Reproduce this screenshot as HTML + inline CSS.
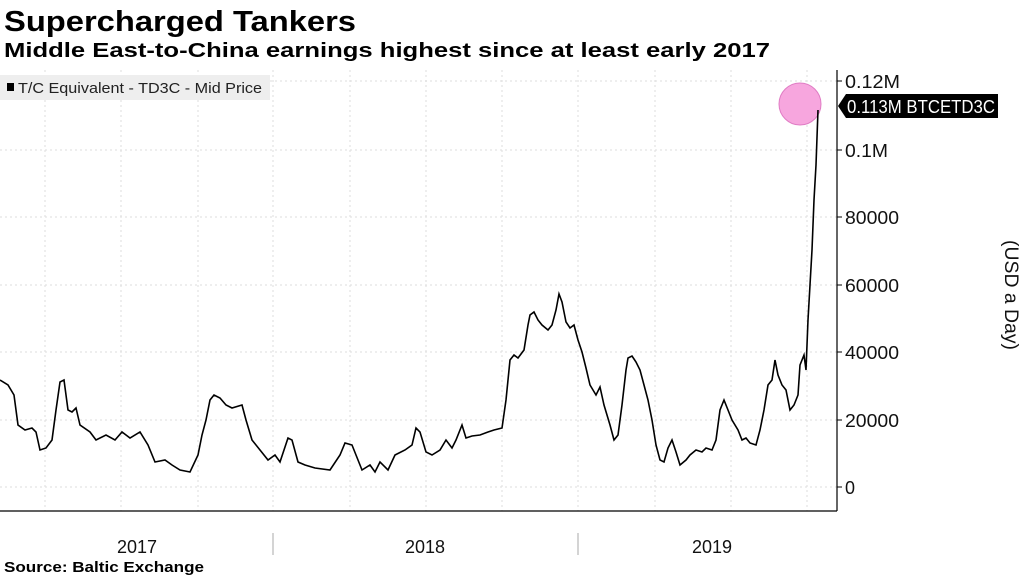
<!DOCTYPE html><html><head><style>body{margin:0;background:#fff}svg{font-family:"Liberation Sans",sans-serif}</style></head><body>
<svg width="1024" height="576" xmlns="http://www.w3.org/2000/svg">
<text x="4" y="31" font-size="29" font-weight="bold" textLength="352" lengthAdjust="spacingAndGlyphs">Supercharged Tankers</text>
<text x="4" y="57" font-size="20" font-weight="bold" textLength="766" lengthAdjust="spacingAndGlyphs">Middle East-to-China earnings highest since at least early 2017</text>
<g stroke="#ddd" stroke-dasharray="2,3" stroke-width="1">
<line x1="0" x2="837" y1="81" y2="81"/><line x1="0" x2="837" y1="150" y2="150"/><line x1="0" x2="837" y1="217" y2="217"/><line x1="0" x2="837" y1="285" y2="285"/><line x1="0" x2="837" y1="352" y2="352"/><line x1="0" x2="837" y1="420" y2="420"/><line x1="0" x2="837" y1="487" y2="487"/>
<line x1="45" x2="45" y1="70" y2="511"/><line x1="121" x2="121" y1="70" y2="511"/><line x1="198" x2="198" y1="70" y2="511"/><line x1="273" x2="273" y1="70" y2="511"/><line x1="350" x2="350" y1="70" y2="511"/><line x1="426" x2="426" y1="70" y2="511"/><line x1="502" x2="502" y1="70" y2="511"/><line x1="578" x2="578" y1="70" y2="511"/><line x1="655" x2="655" y1="70" y2="511"/><line x1="731" x2="731" y1="70" y2="511"/><line x1="807" x2="807" y1="70" y2="511"/>
</g>
<rect x="0" y="75" width="270" height="25" fill="#eee"/>
<rect x="7" y="83" width="7" height="8" fill="#000"/>
<text x="18" y="93" font-size="15" fill="#222" textLength="244" lengthAdjust="spacingAndGlyphs">T/C Equivalent - TD3C - Mid Price</text>
<circle cx="800" cy="104" r="21" fill="#f7a6de" stroke="#e07cc4" stroke-width="1"/>
<polyline fill="none" stroke="#000" stroke-width="1.6" points="0,380 8,385 14,395 18,425 25,430 32,428 36,432 40,450 46,448 52,440 56,410 60,382 64,380 68,410 72,412 76,408 80,425 90,432 96,440 106,435 115,440 122,432 130,438 140,432 148,445 155,462 165,460 172,465 180,470 190,472 198,455 202,435 206,420 210,400 214,395 220,398 226,405 232,408 242,405 246,420 252,440 260,450 268,460 275,455 280,462 288,438 292,440 298,462 305,465 315,468 330,470 340,455 345,443 352,445 356,455 362,470 370,465 375,472 380,462 388,470 395,455 405,450 412,445 416,428 420,432 426,452 432,455 440,450 446,440 452,448 456,440 462,425 466,438 472,436 480,435 488,432 494,430 502,428 506,400 510,360 514,355 518,358 524,350 528,325 530,315 534,312 538,320 542,325 548,330 552,325 556,310 559,294 562,302 566,322 570,328 574,325 578,340 582,352 586,368 590,385 596,395 600,387 604,405 610,425 614,440 618,435 622,405 626,370 628,358 632,356 636,362 640,370 644,385 648,400 652,420 656,445 660,460 664,462 668,448 672,440 676,452 680,465 686,460 690,455 696,450 702,452 706,448 712,450 716,440 720,410 724,400 728,410 732,420 738,430 742,440 746,438 750,443 756,445 760,430 764,410 768,385 772,380 775,360 778,375 782,385 786,390 790,410 794,405 798,395 800,365 802,360 804,355 806,370 808,320 810,285 812,250 814,200 816,165 818,110"/>
<line x1="837" x2="837" y1="70" y2="511" stroke="#000" stroke-width="1.2"/>
<line x1="0" x2="837" y1="511" y2="511" stroke="#000" stroke-width="1.2"/>
<g stroke="#000"><line x1="837" x2="842" y1="81" y2="81"/><line x1="837" x2="842" y1="150" y2="150"/><line x1="837" x2="842" y1="217" y2="217"/><line x1="837" x2="842" y1="285" y2="285"/><line x1="837" x2="842" y1="352" y2="352"/><line x1="837" x2="842" y1="420" y2="420"/><line x1="837" x2="842" y1="487" y2="487"/></g>
<g font-size="18" fill="#111"><text x="845" y="88" textLength="55" lengthAdjust="spacingAndGlyphs">0.12M</text><text x="845" y="157" textLength="43" lengthAdjust="spacingAndGlyphs">0.1M</text><text x="845" y="224" textLength="54" lengthAdjust="spacingAndGlyphs">80000</text><text x="845" y="292" textLength="54" lengthAdjust="spacingAndGlyphs">60000</text><text x="845" y="359" textLength="54" lengthAdjust="spacingAndGlyphs">40000</text><text x="845" y="427" textLength="54" lengthAdjust="spacingAndGlyphs">20000</text><text x="845" y="494">0</text></g>
<polygon points="838,106 846,94 998,94 998,118 846,118" fill="#000"/>
<text x="847" y="113" font-size="18" fill="#fff" textLength="148" lengthAdjust="spacingAndGlyphs">0.113M BTCETD3C</text>
<text transform="translate(1005,295) rotate(90)" font-size="19" text-anchor="middle" fill="#111" textLength="110" lengthAdjust="spacingAndGlyphs">(USD a Day)</text>
<line x1="273" x2="273" y1="533" y2="555" stroke="#aaa"/><line x1="578" x2="578" y1="533" y2="555" stroke="#aaa"/>
<g font-size="18" fill="#111" text-anchor="middle"><text x="137" y="553">2017</text><text x="425" y="553">2018</text><text x="712" y="553">2019</text></g>
<text x="4" y="572" font-size="15" font-weight="bold" textLength="200" lengthAdjust="spacingAndGlyphs">Source: Baltic Exchange</text>
</svg></body></html>
